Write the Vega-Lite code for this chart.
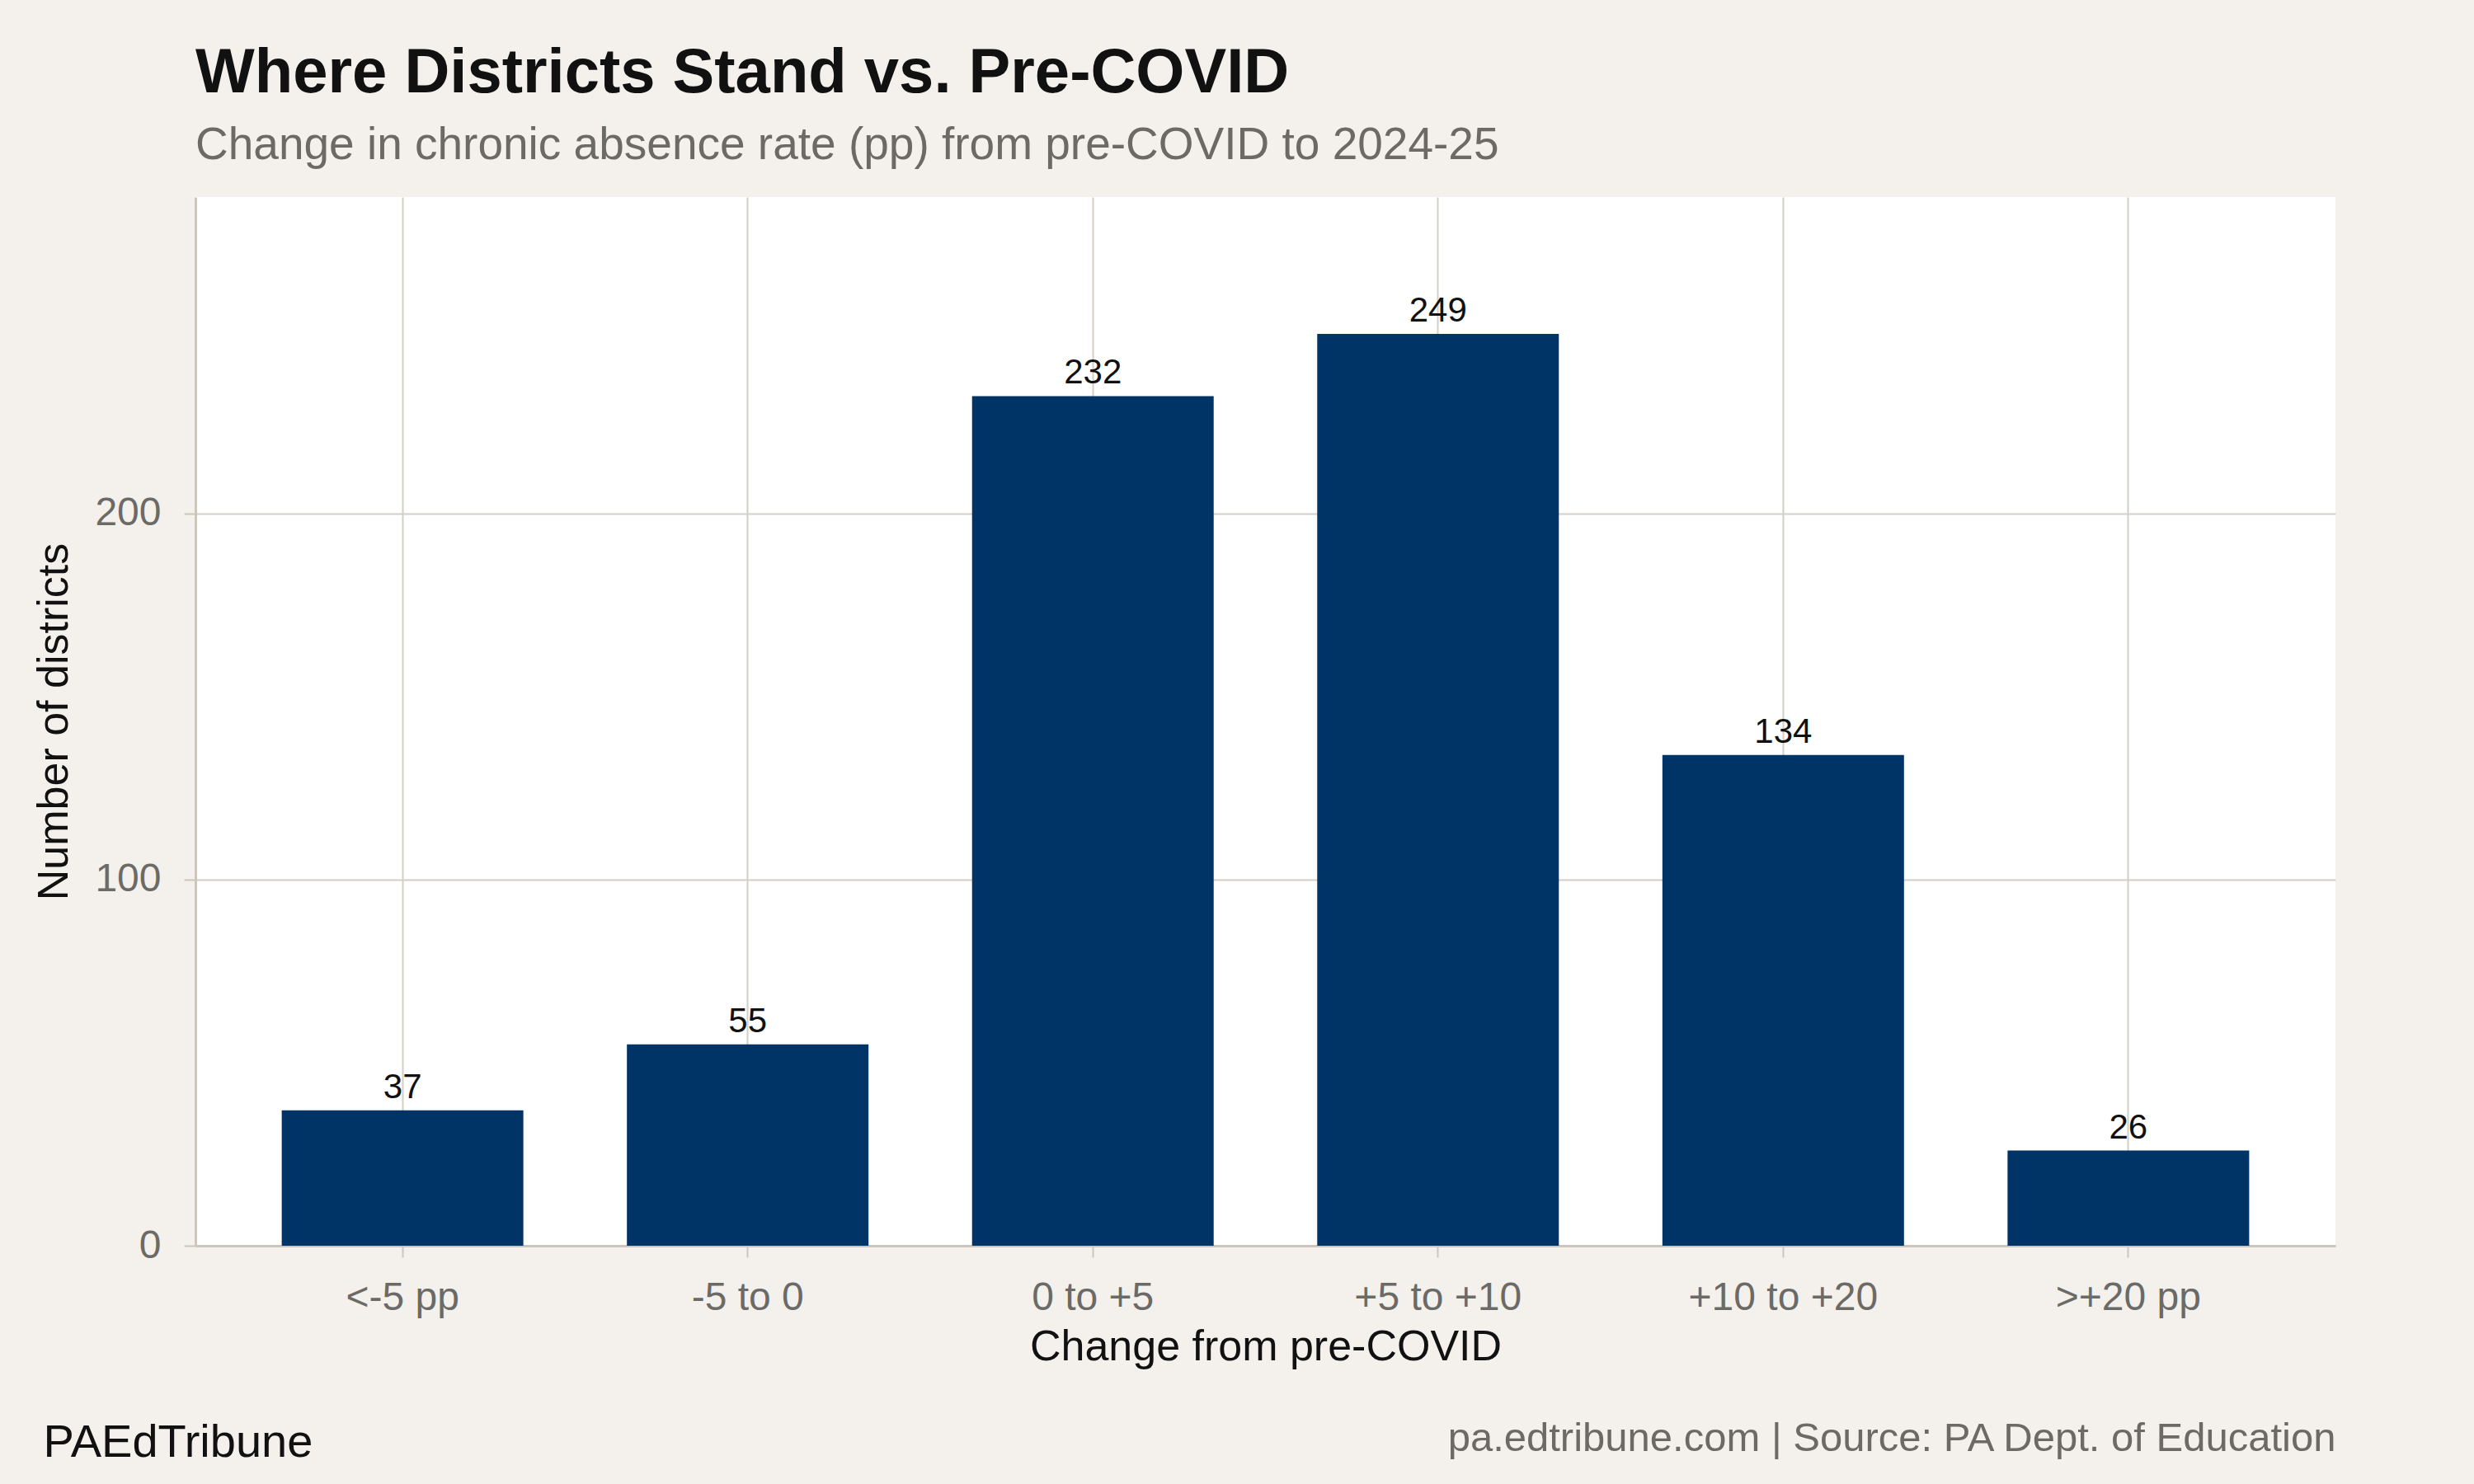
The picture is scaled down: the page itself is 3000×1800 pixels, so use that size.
{
  "$schema": "https://vega.github.io/schema/vega-lite/v6.json",
  "autosize": "none",
  "width": 2595,
  "height": 1272,
  "padding": {"left": 237, "top": 239, "right": 168, "bottom": 289},
  "background": "#f4f1ec",
  "config": {
    "font": "Liberation Sans",
    "view": {"fill": "white", "stroke": null}
  },
  "title": {
    "text": "Where Districts Stand vs. Pre-COVID",
    "subtitle": "Change in chronic absence rate (pp) from pre-COVID to 2024-25",
    "anchor": "start",
    "frame": "group",
    "fontSize": 76,
    "fontWeight": "bold",
    "color": "#111111",
    "subtitleFontSize": 55,
    "subtitleColor": "#6b6a66",
    "subtitlePadding": 22,
    "offset": 34
  },
  "data": {
    "values": [
      {"bin": "<-5 pp", "n": 37},
      {"bin": "-5 to 0", "n": 55},
      {"bin": "0 to +5", "n": 232},
      {"bin": "+5 to +10", "n": 249},
      {"bin": "+10 to +20", "n": 134},
      {"bin": ">+20 pp", "n": 26}
    ]
  },
  "encoding": {
    "x": {
      "field": "bin",
      "type": "nominal",
      "sort": null,
      "scale": {"paddingInner": 0.3, "paddingOuter": 0.25}
    },
    "y": {
      "field": "n",
      "type": "quantitative",
      "scale": {"domain": [0, 286.35], "nice": false, "zero": true}
    }
  },
  "layer": [
    {
      "mark": {"type": "bar", "color": "#003366"},
      "encoding": {
        "x": {
          "field": "bin",
          "type": "nominal",
          "sort": null,
          "title": "Change from pre-COVID",
          "axis": {
            "orient": "bottom",
            "bandPosition": 0.5,
            "grid": true,
            "gridColor": "#d3cec6",
            "gridWidth": 2,
            "domainColor": "#cdc6bc",
            "domainWidth": 3,
            "tickColor": "#cdc6bc",
            "tickWidth": 2,
            "tickSize": 14,
            "labelAngle": 0,
            "labelLimit": 0,
            "labelFontSize": 48,
            "labelColor": "#6b6a66",
            "labelPadding": 25,
            "titleFontSize": 52,
            "titleFontWeight": "normal",
            "titleColor": "#111111",
            "titlePadding": 10
          }
        },
        "y": {
          "field": "n",
          "type": "quantitative",
          "title": "Number of districts",
          "axis": {
            "values": [0, 100, 200],
            "grid": true,
            "gridColor": "#d3cec6",
            "gridWidth": 2,
            "domainColor": "#cdc6bc",
            "domainWidth": 3,
            "tickColor": "#cdc6bc",
            "tickWidth": 2,
            "tickSize": 14,
            "labelFontSize": 48,
            "labelColor": "#6b6a66",
            "labelPadding": 28,
            "titleFontSize": 52,
            "titleFontWeight": "normal",
            "titleColor": "#111111",
            "titlePadding": 22
          }
        }
      }
    },
    {
      "mark": {"type": "text", "baseline": "alphabetic", "dy": -15, "fontSize": 42, "color": "#111111"},
      "encoding": {
        "text": {"field": "n", "type": "quantitative"},
        "x": {
          "field": "bin",
          "type": "nominal",
          "sort": null,
          "title": "PAEdTribune",
          "axis": {
            "orient": "top",
            "labels": false,
            "ticks": false,
            "domain": false,
            "grid": false,
            "titleAngle": 0,
            "titleAnchor": null,
            "titleAlign": "left",
            "titleBaseline": "alphabetic",
            "titleX": -185,
            "titleY": 1527,
            "titleFontSize": 56,
            "titleFontWeight": "normal",
            "titleColor": "#111111"
          }
        },
        "y": {
          "field": "n",
          "type": "quantitative",
          "title": "pa.edtribune.com | Source: PA Dept. of Education",
          "axis": {
            "orient": "right",
            "labels": false,
            "ticks": false,
            "domain": false,
            "grid": false,
            "titleAngle": 0,
            "titleAlign": "right",
            "titleBaseline": "alphabetic",
            "titleX": 0,
            "titleY": 1520,
            "titleFontSize": 49,
            "titleFontWeight": "normal",
            "titleColor": "#6b6a66"
          }
        }
      }
    }
  ],
  "resolve": {"axis": {"x": "independent", "y": "independent"}}
}
